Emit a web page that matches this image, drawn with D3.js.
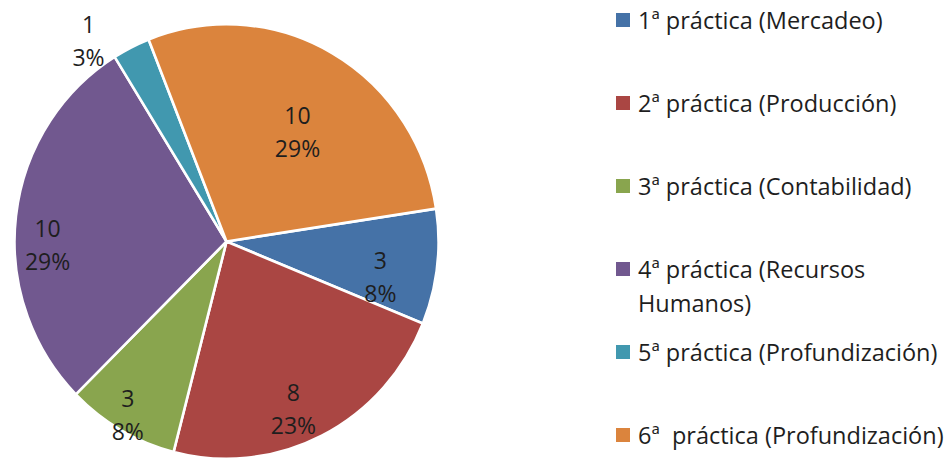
<!DOCTYPE html>
<html>
<head>
<meta charset="utf-8">
<script src="https://cdn.jsdelivr.net/npm/d3@7/dist/d3.min.js"></script>
<style>
  html, body { margin: 0; padding: 0; background: #fff; }
  svg { display: block; }
  text { font-family: "Open Sans", "Noto Sans", sans-serif; fill: #1e1e1e; }
</style>
</head>
<body>
<svg id="chart" width="952" height="461"></svg>
<script>
// Practice sessions by type
const categories = [
  "1ª práctica (Mercadeo)",
  "2ª práctica (Producción)",
  "3ª práctica (Contabilidad)",
  "4ª práctica (Recursos Humanos)",
  "5ª práctica (Profundización)",
  "6ª  práctica (Profundización)"
];
const values = [3, 8, 3, 10, 1, 10];
const percentLabels = ["8%", "23%", "8%", "29%", "3%", "29%"];
const colors = ["#4572A7", "#AA4643", "#89A54E", "#71588F", "#4198AF", "#DB843D"];

// Geometry and label layout
const W = 952, H = 461;
const cx = 226.5, cy = 241.5, radius = 212, yStretch = 1.025;
const startDeg = 81.3;
// label block centres in polar form: clockwise angle from 12 o'clock (deg), distance (px)
const labelPlacement = [
  { a: 103.2, d: 158 },
  { a: 158.3, d: 181 },
  { a: 209.6, d: 200 },
  { a: 268.7, d: 179 },
  { a: 325.4, d: 243 },
  { a: 33.1,  d: 130 }
];

const svg = d3.select("#chart");
const toRad = deg => deg * Math.PI / 180;

const pie = d3.pie()
  .value(d => d)
  .sort(null)
  .startAngle(toRad(startDeg))
  .endAngle(toRad(startDeg) + 2 * Math.PI);

const arc = d3.arc().innerRadius(0).outerRadius(radius);

const color = d3.scaleOrdinal().domain(categories).range(colors);

const g = svg.append("g").attr("transform", `translate(${cx},${cy}) scale(1,${yStretch})`);

const arcs = pie(values);

g.selectAll("path.slice")
  .data(arcs)
  .join("path")
  .attr("class", "slice")
  .attr("d", arc)
  .attr("fill", (d, i) => color(categories[i]))
  .attr("stroke", "#ffffff")
  .attr("stroke-width", 2.6)
  .attr("stroke-linejoin", "round");

// data labels: value over percentage
const labelFont = 23, lineGap = 33;
const lg = svg.append("g").attr("transform", `translate(${cx},${cy})`);
const labels = lg.selectAll("g.label")
  .data(arcs)
  .join("g")
  .attr("class", "label")
  .attr("transform", (d, i) => {
    const p = labelPlacement[i];
    const x = Math.sin(toRad(p.a)) * p.d;
    const y = -Math.cos(toRad(p.a)) * p.d;
    return `translate(${x},${y})`;
  });

labels.append("text")
  .attr("text-anchor", "middle")
  .attr("font-size", labelFont)
  .attr("y", -lineGap / 2)
  .attr("dy", "0.36em")
  .text(d => d.data);

labels.append("text")
  .attr("text-anchor", "middle")
  .attr("font-size", labelFont)
  .attr("y", lineGap / 2)
  .attr("dy", "0.36em")
  .text((d, i) => percentLabels[i]);

// legend
const legendX = 616, swatch = 14, textX = 638, maxTextW = 330;
const legendFont = 23.5, legendLine = 34;
const rowY = d3.scalePoint().domain(categories).range([20, 435]);

const legend = svg.append("g").attr("class", "legend");
const items = legend.selectAll("g.item")
  .data(categories)
  .join("g")
  .attr("class", "item")
  .attr("transform", d => `translate(0,${rowY(d)})`);

items.append("rect")
  .attr("x", legendX)
  .attr("y", -swatch / 2)
  .attr("width", swatch)
  .attr("height", swatch)
  .attr("fill", d => color(d));

items.each(function (d) {
  const t = d3.select(this).append("text")
    .attr("x", textX)
    .attr("y", 9)
    .attr("font-size", legendFont)
    .style("white-space", "pre");
  // wrap long entries onto a second line
  const words = d.split(" ");
  let line = [];
  let tspan = t.append("tspan").attr("x", textX).attr("dy", 0);
  words.forEach(w => {
    line.push(w);
    tspan.text(line.join(" "));
    if (tspan.node().getComputedTextLength() > maxTextW && line.length > 1) {
      line.pop();
      tspan.text(line.join(" "));
      line = [w];
      tspan = t.append("tspan").attr("x", textX).attr("dy", legendLine).text(w);
    }
  });
});
</script>
</body>
</html>
